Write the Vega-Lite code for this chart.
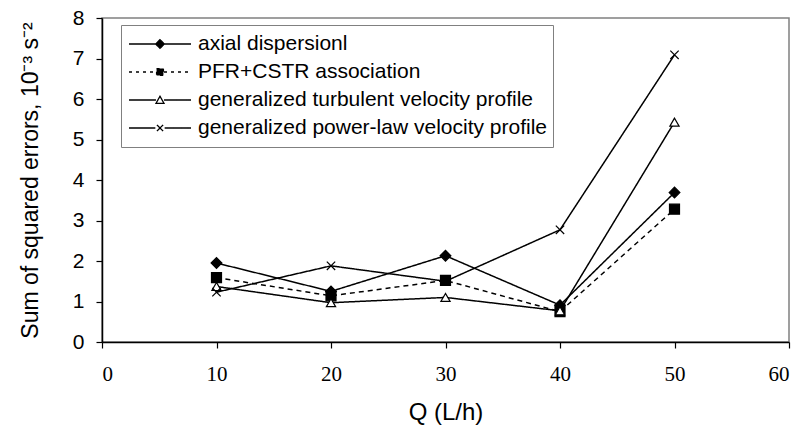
{
  "$schema": "https://vega.github.io/schema/vega-lite/v6.json",
  "autosize": "none",
  "width": 687,
  "height": 324,
  "padding": {"left": 102, "top": 18, "right": 13, "bottom": 83},
  "background": "white",
  "config": {
    "view": {"stroke": "#808080", "strokeWidth": 1.5},
    "axis": {"grid": false, "domainColor": "black", "tickColor": "black", "domainWidth": 1.5, "tickWidth": 1.2, "tickSize": 6, "labelColor": "black", "titleColor": "black", "titleFontWeight": "normal"}
  },
  "data": {
    "values": [
      {"Q": 10, "v": 1.95, "series": "axial dispersionl"},
      {"Q": 20, "v": 1.25, "series": "axial dispersionl"},
      {"Q": 30, "v": 2.13, "series": "axial dispersionl"},
      {"Q": 40, "v": 0.91, "series": "axial dispersionl"},
      {"Q": 50, "v": 3.69, "series": "axial dispersionl"},
      {"Q": 10, "v": 1.59, "series": "PFR+CSTR association"},
      {"Q": 20, "v": 1.14, "series": "PFR+CSTR association"},
      {"Q": 30, "v": 1.52, "series": "PFR+CSTR association"},
      {"Q": 40, "v": 0.75, "series": "PFR+CSTR association"},
      {"Q": 50, "v": 3.28, "series": "PFR+CSTR association"},
      {"Q": 10, "v": 1.37, "series": "generalized turbulent velocity profile"},
      {"Q": 20, "v": 0.97, "series": "generalized turbulent velocity profile"},
      {"Q": 30, "v": 1.1, "series": "generalized turbulent velocity profile"},
      {"Q": 40, "v": 0.77, "series": "generalized turbulent velocity profile"},
      {"Q": 50, "v": 5.43, "series": "generalized turbulent velocity profile"},
      {"Q": 10, "v": 1.23, "series": "generalized power-law velocity profile"},
      {"Q": 20, "v": 1.88, "series": "generalized power-law velocity profile"},
      {"Q": 30, "v": 1.5, "series": "generalized power-law velocity profile"},
      {"Q": 40, "v": 2.77, "series": "generalized power-law velocity profile"},
      {"Q": 50, "v": 7.09, "series": "generalized power-law velocity profile"}
    ]
  },
  "encoding": {
    "x": {
      "field": "Q", "type": "quantitative",
      "scale": {"domain": [0, 60], "nice": false},
      "axis": {"values": [0, 10, 20, 30, 40, 50, 60], "labelFont": "Liberation Serif", "labelFontSize": 21, "labelPadding": 15, "title": "Q  (L/h)", "titleFont": "Liberation Sans", "titleFontSize": 24, "titlePadding": 16}
    },
    "y": {
      "field": "v", "type": "quantitative",
      "scale": {"domain": [0, 8], "nice": false},
      "axis": {"values": [0, 1, 2, 3, 4, 5, 6, 7, 8], "labelFont": "Liberation Sans", "labelFontSize": 21, "labelPadding": 12, "title": "Sum of squared errors, 10⁻³ s⁻²", "titleFont": "Liberation Sans", "titleFontSize": 23, "titlePadding": 30}
    }
  },
  "layer": [
    {
      "mark": {"type": "line", "color": "black", "strokeWidth": 1.5},
      "encoding": {
        "strokeDash": {
          "field": "series", "type": "nominal",
          "scale": {"domain": ["axial dispersionl", "PFR+CSTR association", "generalized turbulent velocity profile", "generalized power-law velocity profile"], "range": [[1, 0], [5, 4], [1, 0], [1, 0]]},
          "legend": null
        }
      }
    },
    {
      "mark": {"type": "point", "stroke": "black", "strokeWidth": 1.2, "opacity": 1},
      "encoding": {
        "shape": {
          "field": "series", "type": "nominal",
          "scale": {"domain": ["axial dispersionl", "PFR+CSTR association", "generalized turbulent velocity profile", "generalized power-law velocity profile"], "range": ["diamond", "square", "triangle-up", "M-1,-1L1,1M-1,1L1,-1"]},
          "legend": null
        },
        "fill": {
          "field": "series", "type": "nominal",
          "scale": {"domain": ["axial dispersionl", "PFR+CSTR association", "generalized turbulent velocity profile", "generalized power-law velocity profile"], "range": ["black", "black", "white", "transparent"]},
          "legend": null
        },
        "size": {
          "field": "series", "type": "nominal",
          "scale": {"domain": ["axial dispersionl", "PFR+CSTR association", "generalized turbulent velocity profile", "generalized power-law velocity profile"], "range": [115, 70, 100, 150]},
          "legend": null
        }
      }
    },
    {
      "mark": {"type": "point", "strokeWidth": 1.3, "opacity": 0, "size": 3844},
      "encoding": {
        "shape": {
          "field": "series", "type": "nominal",
          "scale": {"domain": ["axial dispersionl", "PFR+CSTR association", "generalized turbulent velocity profile", "generalized power-law velocity profile"], "range": ["M-1,0L1,0M0,-0.14L0.14,0L0,0.14L-0.14,0Z", "M-1,0L1,0M-0.11,-0.11L0.11,-0.11L0.11,0.11L-0.11,0.11Z", "M-1,0L-0.13,0M0.13,0L1,0M0,-0.12L0.13,0.11L-0.13,0.11Z", "M-1,0L-0.15,0M0.15,0L1,0M-0.1,-0.1L0.1,0.1M-0.1,0.1L0.1,-0.1"]},
          "legend": {"title": null, "orient": "none", "legendX": 19, "legendY": 7, "padding": 5, "strokeColor": "#808080", "fillColor": "white", "symbolSize": 3844, "symbolOpacity": 1, "symbolStrokeWidth": 1.3, "symbolOffset": 2, "labelOffset": 6, "labelFont": "Liberation Sans", "labelFontSize": 21, "labelColor": "black", "labelLimit": 500, "clipHeight": 28, "rowPadding": 0}
        },
        "fill": {
          "field": "series", "type": "nominal",
          "scale": {"domain": ["axial dispersionl", "PFR+CSTR association", "generalized turbulent velocity profile", "generalized power-law velocity profile"], "range": ["black", "black", "white", "transparent"]}
        },
        "stroke": {
          "field": "series", "type": "nominal",
          "scale": {"domain": ["axial dispersionl", "PFR+CSTR association", "generalized turbulent velocity profile", "generalized power-law velocity profile"], "range": ["black", "black", "black", "black"]}
        },
        "strokeDash": {
          "field": "series", "type": "nominal",
          "scale": {"domain": ["axial dispersionl", "PFR+CSTR association", "generalized turbulent velocity profile", "generalized power-law velocity profile"], "range": [[1, 0], [3, 4], [1, 0], [1, 0]]}
        }
      }
    }
  ],
  "resolve": {"scale": {"shape": "independent", "fill": "independent", "stroke": "independent", "strokeDash": "independent", "size": "independent"}}
}
